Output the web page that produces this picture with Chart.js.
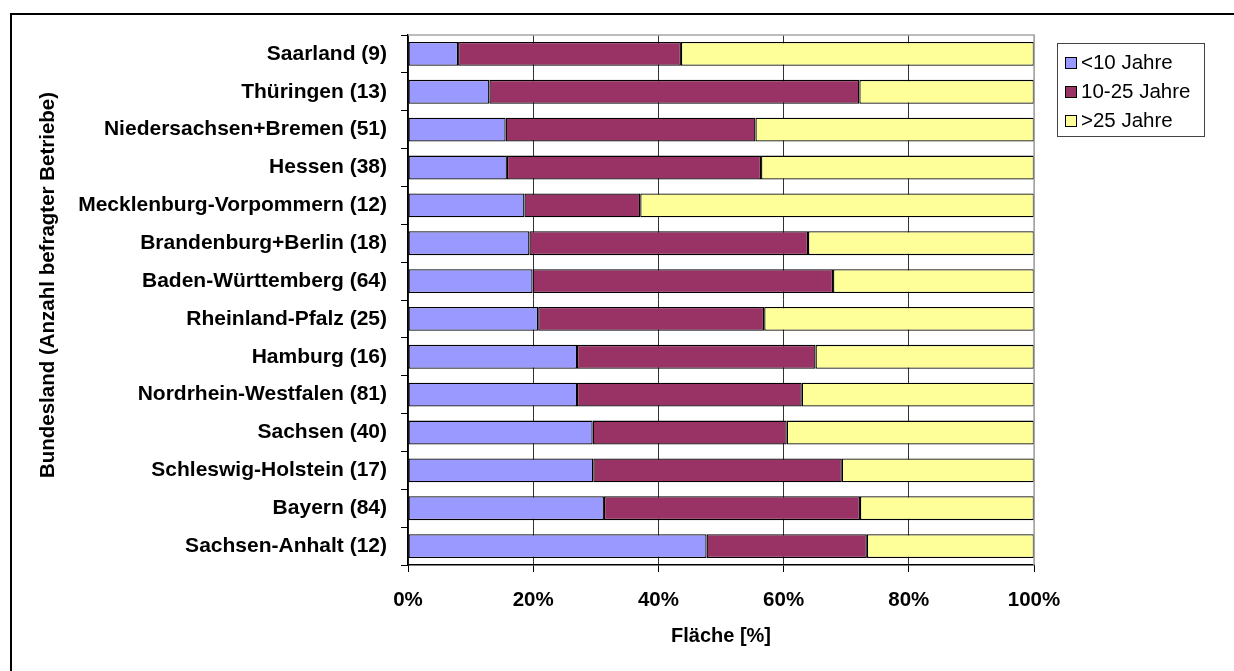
<!DOCTYPE html>
<html>
<head>
<meta charset="utf-8">
<script src="https://cdn.jsdelivr.net/npm/chart.js@4/dist/chart.umd.min.js"></script>
<style>
    html, body { margin: 0; padding: 0; background: #fff; }
    canvas { display: block; }
</style>
</head>
<body>
<canvas id="chart_bundesland" width="1234" height="671"></canvas>
<script>
const labels = [
    "Saarland (9)",
    "Thüringen (13)",
    "Niedersachsen+Bremen (51)",
    "Hessen (38)",
    "Mecklenburg-Vorpommern (12)",
    "Brandenburg+Berlin (18)",
    "Baden-Württemberg (64)",
    "Rheinland-Pfalz (25)",
    "Hamburg (16)",
    "Nordrhein-Westfalen (81)",
    "Sachsen (40)",
    "Schleswig-Holstein (17)",
    "Bayern (84)",
    "Sachsen-Anhalt (12)",
];
const unter10 = [8.0, 13.0, 15.6, 15.8, 18.6, 19.4, 19.9, 20.8, 27.0, 27.0, 29.5, 29.6, 31.3, 47.7];
const von10bis25 = [35.6, 59.1, 39.9, 40.6, 18.5, 44.5, 48.0, 36.1, 38.1, 35.9, 31.0, 39.7, 40.9, 25.6];
const ueber25 = [56.4, 27.9, 44.5, 43.6, 62.9, 36.1, 32.1, 43.1, 34.9, 37.1, 39.5, 30.7, 27.8, 26.7];
const xTicks = [0, 20, 40, 60, 80, 100];

const fontFamily = "'Liberation Sans', Arial, sans-serif";
const yTitle = "Bundesland (Anzahl befragter Betriebe)";

const data = {
    labels: labels,
    datasets: [
        {
            label: "<10 Jahre",
            data: unter10,
            backgroundColor: "#9999ff",
        },
        {
            label: "10-25 Jahre",
            data: von10bis25,
            backgroundColor: "#993366",
        },
        {
            label: ">25 Jahre",
            data: ueber25,
            backgroundColor: "#ffff99",
        },
    ],
};

// Rahmen, Plotrand oben/rechts, y-Titel und Legende (Excel-Stil)
const excelLook = {
    id: "excelLook",
    afterDraw(chart) {
        const ctx = chart.ctx;
        const a = chart.chartArea;
        ctx.save();
        // aeusserer Rahmen, nur oben und links sichtbar
        ctx.strokeStyle = "#000";
        ctx.lineWidth = 2;
        ctx.strokeRect(11, 14, 1400, 1000);
        // Plotrand oben und rechts
        ctx.strokeStyle = "#a6a6a6";
        ctx.lineWidth = 1.5;
        ctx.beginPath();
        ctx.moveTo(a.left, a.top);
        ctx.lineTo(a.right, a.top);
        ctx.lineTo(a.right, a.bottom);
        ctx.stroke();
        // y-Achsentitel (im Original etwas oberhalb der Mitte)
        ctx.save();
        ctx.translate(48, 285);
        ctx.rotate(-Math.PI / 2);
        ctx.font = "bold 20.5px " + fontFamily;
        ctx.fillStyle = "#000";
        ctx.textAlign = "center";
        ctx.textBaseline = "middle";
        ctx.fillText(yTitle, 0, 0);
        ctx.restore();
        // Legende
        ctx.fillStyle = "#fff";
        ctx.fillRect(1057, 43, 147, 93);
        ctx.strokeStyle = "#444";
        ctx.lineWidth = 1;
        ctx.strokeRect(1057.5, 43.5, 147, 93);
        ctx.font = "20.5px " + fontFamily;
        ctx.textBaseline = "middle";
        chart.data.datasets.forEach((ds, i) => {
            const y = 62 + i * 29;
            ctx.fillStyle = ds.backgroundColor;
            ctx.fillRect(1065, y - 5, 11, 11);
            ctx.strokeStyle = "#000";
            ctx.strokeRect(1065.5, y - 4.5, 11, 11);
            ctx.fillStyle = "#000";
            ctx.fillText(ds.label, 1081, y + 1);
        });
        ctx.restore();
    },
};

const config = {
    type: "bar",
    data: data,
    plugins: [excelLook],
    options: {
        indexAxis: "y",
        responsive: false,
        animation: false,
        layout: {
            padding: { left: 36, top: 35, right: 200, bottom: 0 },
        },
        datasets: {
            bar: {
                borderColor: "#000",
                borderWidth: 1.3,
                borderSkipped: false,
                categoryPercentage: 1,
                barPercentage: 0.63,
            },
        },
        plugins: {
            legend: { display: false },
            tooltip: { enabled: false },
        },
        scales: {
            x: {
                stacked: true,
                min: 0,
                max: 100,
                afterBuildTicks: (scale) => {
                    scale.ticks = xTicks.map((v) => ({ value: v }));
                },
                afterFit: (scale) => {
                    scale.height = 106;
                },
                ticks: {
                    callback: (v) => v + "%",
                    color: "#000",
                    padding: 16,
                    font: { family: fontFamily, size: 20.5, weight: "bold" },
                },
                grid: {
                    color: (c) => (c.tick && c.tick.value === 100 ? "#a6a6a6" : "#333"),
                    tickColor: "#000",
                    tickLength: 7,
                },
                border: { color: "#000", width: 1.5 },
                title: {
                    display: true,
                    text: "Fläche [%]",
                    color: "#000",
                    padding: { top: 0, bottom: 23 },
                    font: { family: fontFamily, size: 20, weight: "bold" },
                },
            },
            y: {
                stacked: true,
                afterFit: (scale) => {
                    scale.width = 408 - 36;
                },
                ticks: {
                    color: "#000",
                    padding: 14,
                    font: { family: fontFamily, size: 21, weight: "bold" },
                },
                grid: {
                    drawOnChartArea: false,
                    color: "#000",
                    tickLength: 7,
                },
                border: { color: "#000", width: 1.5 },
                title: { display: false },
            },
        },
    },
};

const ctxBundesland = document.getElementById("chart_bundesland");
const bundeslandChart = new Chart(ctxBundesland, config);
</script>
</body>
</html>
